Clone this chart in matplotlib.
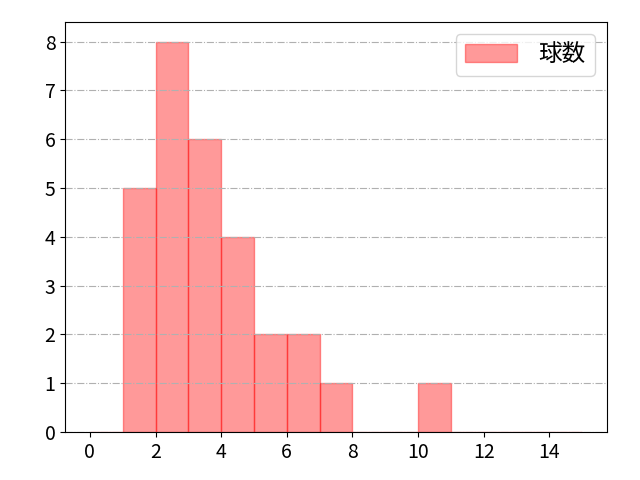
import matplotlib
matplotlib.use("Agg")
import matplotlib.pyplot as plt

plt.rcParams['font.family'] = ['Noto Sans CJK JP', 'DejaVu Sans']

# histogram bins (width 1) and counts
bin_edges = list(range(0, 16))
counts = [0, 5, 8, 6, 4, 2, 2, 1, 0, 0, 1, 0, 0, 0, 0]
label = "球数"

fig, ax = plt.subplots(figsize=(6.4, 4.8), dpi=100)
fig.subplots_adjust(left=0.102, right=0.948, top=0.954, bottom=0.1)

ax.hist(bin_edges[:-1], bins=bin_edges, weights=counts,
        color='red', alpha=0.4, edgecolor='red', label=label)

ax.grid(axis='y', linestyle='-.', color='#b0b0b0')
ax.set_xticks(range(0, 15, 2))
ax.set_yticks(range(0, 9))
ax.tick_params(labelsize=14)
ax.legend(fontsize=17, handlelength=2.2, handleheight=0.8,
          handletextpad=0.9, borderpad=0.4)

fig.savefig("out.png")
